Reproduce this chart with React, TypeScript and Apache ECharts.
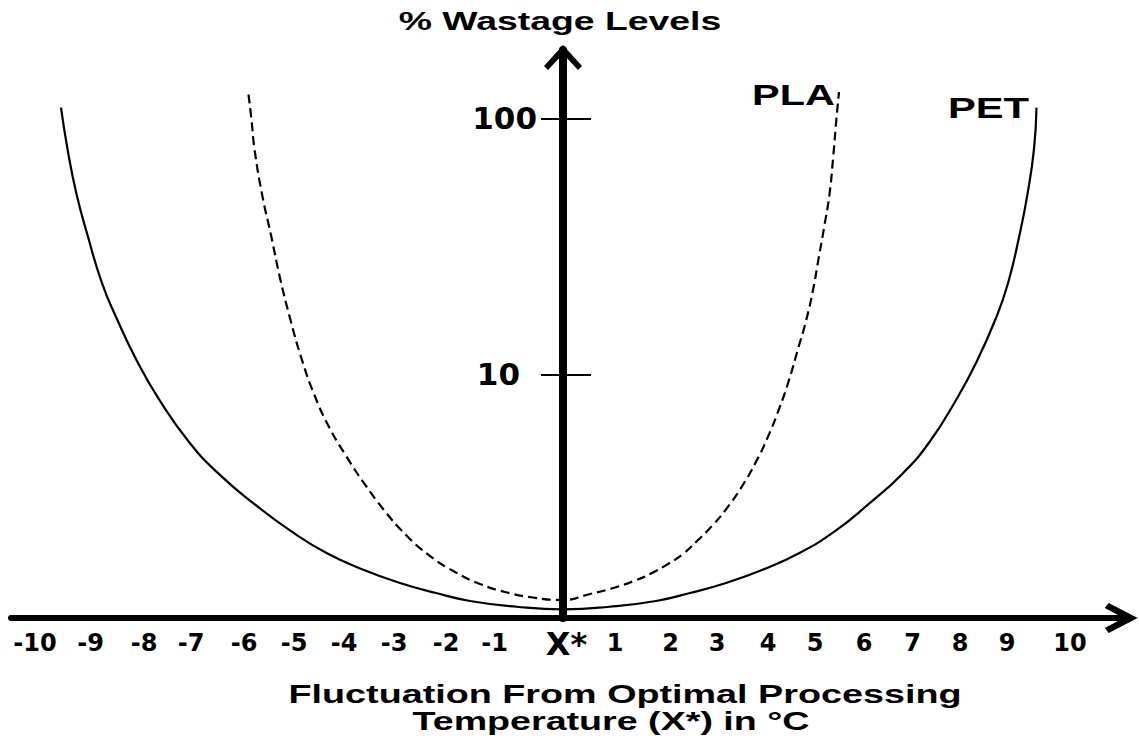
import React, { useEffect, useRef } from "react";
import * as echarts from "echarts";

// X-axis tick labels and where they sit along the temperature axis (units of the axis)
const xLabelTexts = ["-10", "-9", "-8", "-7", "-6", "-5", "-4", "-3", "-2", "-1", "X*", "1", "2", "3", "4", "5", "6", "7", "8", "9", "10"];
const xLabelPositions = [-10.56, -9.45, -8.38, -7.44, -6.38, -5.38, -4.38, -3.38, -2.34, -1.37, 0.07, 1.04, 2.15, 3.08, 4.1, 5.04, 6.02, 6.99, 7.94, 8.88, 10.14];

// Y-axis (log) ticks
const yTickValues = [10, 100];

// PET curve (solid)
const petX = [-10.04, -9.91, -9.73, -9.51, -9.22, -8.93, -8.5, -8.06, -7.48, -6.9, -6.17, -5.44, -4.72, -3.98, -3.26, -2.54, -1.86, -0.93, 0, 0.93, 1.86, 2.54, 3.26, 3.98, 4.72, 5.44, 6.11, 6.8, 7.33, 7.85, 8.26, 8.66, 8.9, 9.13, 9.29, 9.42, 9.47];
const petY = [110.1, 75.9, 50.6, 35.0, 22.7, 16.6, 11.07, 7.87, 5.44, 4.11, 3.11, 2.44, 2.0, 1.72, 1.531, 1.398, 1.302, 1.236, 1.208, 1.236, 1.302, 1.398, 1.531, 1.72, 2.0, 2.44, 3.11, 4.11, 5.44, 7.87, 11.07, 16.6, 22.7, 35.0, 50.6, 75.9, 110.1];

// PLA curve (dashed)
const plaX = [-6.29, -6.23, -6.17, -6.02, -5.84, -5.66, -5.45, -5.22, -4.98, -4.7, -4.35, -3.98, -3.58, -3.14, -2.66, -2.16, -1.66, -1.16, -0.6, 0, 0.54, 1.04, 1.44, 1.78, 2.1, 2.4, 2.68, 2.98, 3.28, 3.58, 3.86, 4.1, 4.32, 4.52, 4.7, 4.86, 5.0, 5.11, 5.22, 5.33, 5.4, 5.47, 5.52];
const plaY = [123.9, 98.5, 75.9, 50.6, 35.0, 23.8, 16.3, 11.37, 8.38, 6.34, 4.84, 3.76, 2.95, 2.357, 1.951, 1.689, 1.517, 1.411, 1.343, 1.313, 1.386, 1.47, 1.565, 1.674, 1.816, 1.986, 2.233, 2.555, 3.005, 3.652, 4.551, 5.709, 7.312, 9.49, 12.56, 16.15, 21.35, 28.2, 37.3, 50.6, 69.3, 100.3, 126.7];

const X_MIN = -11.04;
const X_MAX = 11.34;
const Y_MIN = 1.117;
const Y_MAX = 184.9;

const FONT_AX = '"DejaVu Sans", "Liberation Sans", sans-serif';
const FONT_TXT = '"Liberation Sans", Arial, sans-serif';

const X_ARROW = "path://M15 0 L30 29 L25 33 L15 14 L5 33 L0 29 Z";
const Y_ARROW = "path://M19 0 L38 21 L34 25 L19 9 L4 25 L0 21 Z";

function xLabelFor(v: number): string {
  let best = 0;
  let bd = Infinity;
  xLabelPositions.forEach((p, i) => {
    const d = Math.abs(p - v);
    if (d < bd) {
      bd = d;
      best = i;
    }
  });
  const t = xLabelTexts[best];
  return t === "X*" ? "{x|X*}" : t;
}

function textEl(text: string, x: number, y: number, size: number, scaleX: number) {
  return {
    type: "text",
    x,
    y,
    scaleX,
    z: 10,
    style: {
      text,
      x: 0,
      y: 0,
      fill: "#000",
      fontFamily: FONT_TXT,
      fontWeight: "bold",
      fontSize: size,
      align: "center",
      verticalAlign: "middle",
      textAlign: "center",
      textVerticalAlign: "middle",
    },
  };
}

export default function App() {
  const ref = useRef<HTMLDivElement>(null);

  useEffect(() => {
    if (!ref.current) return;
    const chart = echarts.init(ref.current, null, { renderer: "svg" });

    const option: any = {
      animation: false,
      backgroundColor: "#ffffff",
      grid: { left: 11, right: 9, top: 50, bottom: 124, containLabel: false, outerBoundsMode: "none" },
      xAxis: {
        type: "value",
        min: X_MIN,
        max: X_MAX,
        z: 5,
        axisLine: {
          show: true,
          onZero: false,
          lineStyle: { color: "#000", width: 6 },
          symbol: ["none", X_ARROW],
          symbolSize: [30, 33],
          symbolOffset: [0, -8.8],
        },
        axisTick: { show: false },
        splitLine: { show: false },
        axisLabel: {
          customValues: xLabelPositions,
          formatter: (v: number) => xLabelFor(v),
          margin: 13,
          color: "#000",
          fontFamily: FONT_AX,
          fontWeight: "bold",
          fontSize: 24,
          rich: {
            x: { fontFamily: FONT_AX, fontWeight: "bold", fontSize: 32, lineHeight: 26, color: "#000" },
          },
        },
      },
      yAxis: [
        {
          type: "log",
          logBase: 10,
          min: Y_MIN,
          max: Y_MAX,
          position: "left",
          offset: -552,
          z: 5,
          axisLine: {
            show: true,
            onZero: false,
            lineStyle: { color: "#000", width: 8 },
            symbol: ["none", Y_ARROW],
            symbolSize: [38, 25],
            symbolOffset: [0, -7.5],
          },
          axisTick: { show: true, customValues: yTickValues, length: 22, lineStyle: { color: "#000", width: 2 } },
          splitLine: { show: false },
          minorTick: { show: false },
          axisLabel: {
            customValues: yTickValues,
            margin: 26,
            color: "#000",
            fontFamily: FONT_AX,
            fontWeight: "bold",
            fontSize: 31,
            formatter: (v: number) => (Math.abs(v - 10) < 0.5 ? "{p|10}" : String(Math.round(v))),
            rich: {
              p: { fontFamily: FONT_AX, fontWeight: "bold", fontSize: 31, color: "#000", padding: [0, 17, 0, 0] },
            },
          },
        },
        {
          type: "log",
          logBase: 10,
          min: Y_MIN,
          max: Y_MAX,
          position: "right",
          offset: -567,
          z: 5,
          axisLine: {
            show: true,
            onZero: false,
            lineStyle: { color: "#000", width: 1, opacity: 0 },
          },
          axisTick: { show: true, customValues: yTickValues, length: 28, lineStyle: { color: "#000", width: 2 } },
          splitLine: { show: false },
          axisLabel: { show: false },
        },
      ],
      series: [
        {
          name: "PET",
          type: "line",
          xAxisIndex: 0,
          yAxisIndex: 0,
          data: petX.map((x, i) => [x, petY[i]]),
          smooth: 0.5,
          showSymbol: false,
          symbol: "none",
          lineStyle: { color: "#000", width: 2.2, type: "solid" },
          z: 2,
        },
        {
          name: "PLA",
          type: "line",
          xAxisIndex: 0,
          yAxisIndex: 0,
          data: plaX.map((x, i) => [x, plaY[i]]),
          smooth: 0.5,
          showSymbol: false,
          symbol: "none",
          lineStyle: { color: "#000", width: 2.2, type: [9, 5] },
          z: 2,
        },
      ],
      graphic: [
        textEl("% Wastage Levels", 560, 21, 25, 1.495),
        textEl("PLA", 793.5, 95, 30, 1.38),
        textEl("PET", 988.5, 108, 30, 1.39),
        textEl("Fluctuation From Optimal Processing", 625, 694, 25, 1.51),
        textEl("Temperature (X*) in °C", 611, 721, 25, 1.506),
      ],
    };

    chart.setOption(option);
    return () => chart.dispose();
  }, []);

  return (
    <div
      ref={ref}
      style={{ position: "fixed", left: 0, top: 0, width: "1139px", height: "742px", background: "#fff" }}
    />
  );
}
